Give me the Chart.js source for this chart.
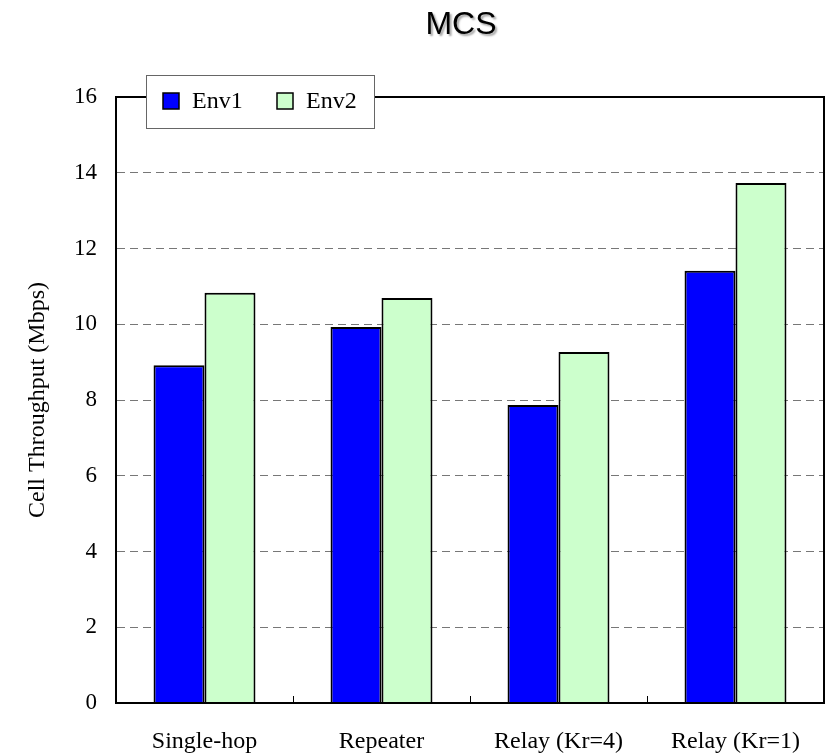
<!DOCTYPE html>
<html>
<head>
<meta charset="utf-8">
<script src="https://cdn.jsdelivr.net/npm/chart.js@4/dist/chart.umd.min.js"></script>
<style>
  html, body { margin: 0; padding: 0; background: #fff; }
  #wrap { width: 828px; height: 755px; }
</style>
</head>
<body>
<div id="wrap"><canvas id="chart" width="828" height="755"></canvas></div>
<script>
// data
const categories = ['Single-hop', 'Repeater', 'Relay (Kr=4)', 'Relay (Kr=1)'];
const env1 = [8.92, 9.93, 7.87, 11.41];
const env2 = [10.83, 10.69, 9.27, 13.73];
const yTicks = [0, 2, 4, 6, 8, 10, 12, 14, 16];

const serif = '"Liberation Serif", "Times New Roman", serif';

// title, frame, x tick marks and boxed legend
const decorations = {
    id: 'decorations',
    afterDraw(chart) {
        const ctx = chart.ctx;
        const area = chart.chartArea;
        ctx.save();

        // frame round the plot
        ctx.strokeStyle = '#000';
        ctx.lineWidth = 2;
        ctx.strokeRect(area.left, area.top, area.right - area.left, area.bottom - area.top);

        // small marks between categories
        const x = chart.scales.x;
        ctx.lineWidth = 1;
        for (let i = 1; i < categories.length; i++) {
            const px = Math.round((x.getPixelForTick(i - 1) + x.getPixelForTick(i)) / 2) + 0.5;
            ctx.beginPath();
            ctx.moveTo(px, area.bottom);
            ctx.lineTo(px, area.bottom - 7);
            ctx.stroke();
        }

        // title with a soft shadow
        ctx.font = '32px "Liberation Sans", Arial, sans-serif';
        ctx.textAlign = 'center';
        ctx.textBaseline = 'middle';
        ctx.shadowColor = 'rgba(0,0,0,0.35)';
        ctx.shadowOffsetX = 2;
        ctx.shadowOffsetY = 2;
        ctx.shadowBlur = 2;
        ctx.fillStyle = '#000';
        ctx.fillText('MCS', 461, 25);
        ctx.shadowColor = 'transparent';

        // legend box
        const lx = 146, ly = 75, lw = 228, lh = 53;
        ctx.fillStyle = '#fff';
        ctx.fillRect(lx, ly, lw, lh);
        ctx.strokeStyle = '#666';
        ctx.lineWidth = 1;
        ctx.strokeRect(lx + 0.5, ly + 0.5, lw, lh);

        const items = [[163, 192], [277, 306]];
        ctx.font = '24px ' + serif;
        ctx.textAlign = 'left';
        chart.data.datasets.forEach((ds, i) => {
            const [sx, tx] = items[i];
            ctx.fillStyle = ds.backgroundColor;
            ctx.fillRect(sx, 93, 16, 16);
            ctx.strokeStyle = '#000';
            ctx.lineWidth = 1.5;
            ctx.strokeRect(sx, 93, 16, 16);
            ctx.fillStyle = '#000';
            ctx.fillText(ds.label, tx, 102);
        });
        ctx.restore();
    }
};

const chartConfig = {
    type: 'bar',
    data: {
        labels: categories,
        datasets: [{
            label: 'Env1',
            data: env1,
            backgroundColor: '#0000FF',
            borderColor: '#000',
            borderWidth: 2,
            borderSkipped: 'bottom'
        }, {
            label: 'Env2',
            data: env2,
            backgroundColor: '#CCFFCC',
            borderColor: '#000',
            borderWidth: 2,
            borderSkipped: 'bottom'
        }]
    },
    options: {
        responsive: false,
        animation: false,
        layout: { padding: { top: 97, right: 4, left: 0, bottom: 0 } },
        datasets: {
            bar: { categoryPercentage: 0.576, barPercentage: 1 }
        },
        plugins: {
            legend: { display: false },
            title: { display: false },
            tooltip: { enabled: false }
        },
        scales: {
            x: {
                grid: { display: false, drawTicks: false },
                border: { display: true, color: '#000', width: 2 },
                ticks: { color: '#000', font: { family: serif, size: 24 }, padding: 24, maxRotation: 0 },
                afterFit(scale) { scale.height = 52; }
            },
            y: {
                min: 0,
                max: 16,
                afterBuildTicks(scale) { scale.ticks = yTicks.map(v => ({ value: v })); },
                grid: {
                    color: ctx => (ctx.tick.value === 0 || ctx.tick.value === 16) ? 'transparent' : '#777',
                    lineWidth: 1,
                    drawTicks: false
                },
                // in v4 border.dash dashes the grid lines, the axis line stays solid
                border: { display: true, color: '#000', width: 2, dash: [8, 5] },
                ticks: { color: '#000', font: { family: serif, size: 23 }, padding: 19 },
                title: {
                    display: true,
                    text: 'Cell Throughput (Mbps)',
                    color: '#000',
                    font: { family: serif, size: 24 },
                    padding: { top: 23, bottom: 0 }
                },
                afterFit(scale) { scale.width = 116; }
            }
        }
    },
    plugins: [decorations]
};

const chart = new Chart(document.getElementById('chart'), chartConfig);
</script>
</body>
</html>
